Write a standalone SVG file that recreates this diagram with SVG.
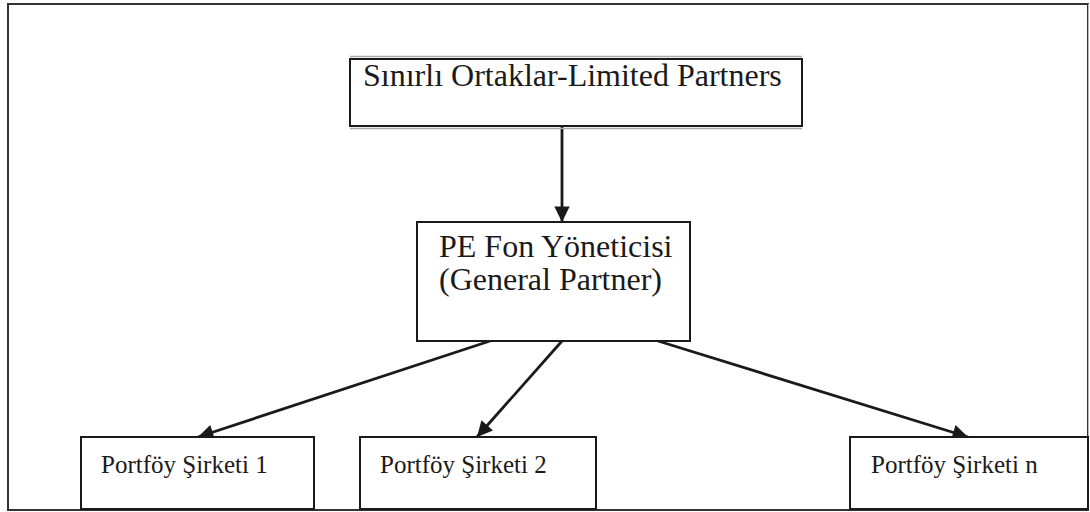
<svg xmlns="http://www.w3.org/2000/svg" width="1090" height="512" viewBox="0 0 1090 512">
<style>
.box{fill:#fff;stroke:#1a1a1a;stroke-width:2}
.t{font-family:"Liberation Serif","Times New Roman",serif;fill:#1a1a1a}
.c{stroke:#1a1a1a;stroke-width:2.8;fill:none;marker-end:url(#ah)}
</style>
<defs>
<marker id="ah" viewBox="0 0 10 10" refX="10" refY="5" markerWidth="6.5" markerHeight="5.5" orient="auto" markerUnits="strokeWidth">
<path d="M0,0 L10,5 L0,10 z" fill="#1a1a1a"/>
</marker>
</defs>
<g id="frame">
<rect x="8" y="4" width="1080" height="506" fill="#fff" stroke="#333" stroke-width="2"/>
<line x1="1088.5" y1="4" x2="1088.5" y2="510" stroke="#bbb" stroke-width="1"/>
</g>
<g id="connectors">
<line class="c" x1="562" y1="127" x2="562" y2="222"/>
<line class="c" x1="490" y1="341" x2="198" y2="437"/>
<line class="c" x1="562" y1="341" x2="477" y2="437"/>
<line class="c" x1="658" y1="341" x2="968" y2="437"/>
</g>
<g id="limited">
<rect class="box" x="350" y="59" width="452" height="67"/>
<line x1="350" y1="56.5" x2="802" y2="56.5" stroke="#aaa" stroke-width="1.5"/>
<line x1="350" y1="128.5" x2="802" y2="128.5" stroke="#aaa" stroke-width="1.5"/>
<text class="t" x="363" y="86" font-size="32">Sınırlı Ortaklar-Limited Partners</text>
</g>
<g id="general">
<rect class="box" x="417" y="222" width="273" height="119"/>
<text class="t" x="439" y="257" font-size="32">PE Fon Yöneticisi</text>
<text class="t" x="439" y="290" font-size="32">(General Partner)</text>
</g>
<g id="p1">
<rect class="box" x="81" y="437" width="233" height="72"/>
<text class="t" x="101" y="473" font-size="25">Portföy Şirketi 1</text>
</g>
<g id="p2">
<rect class="box" x="360" y="437" width="236" height="72"/>
<text class="t" x="380" y="473" font-size="25">Portföy Şirketi 2</text>
</g>
<g id="pn">
<rect class="box" x="850" y="437" width="238" height="72"/>
<text class="t" x="871" y="473" font-size="25">Portföy Şirketi n</text>
</g>
</svg>
